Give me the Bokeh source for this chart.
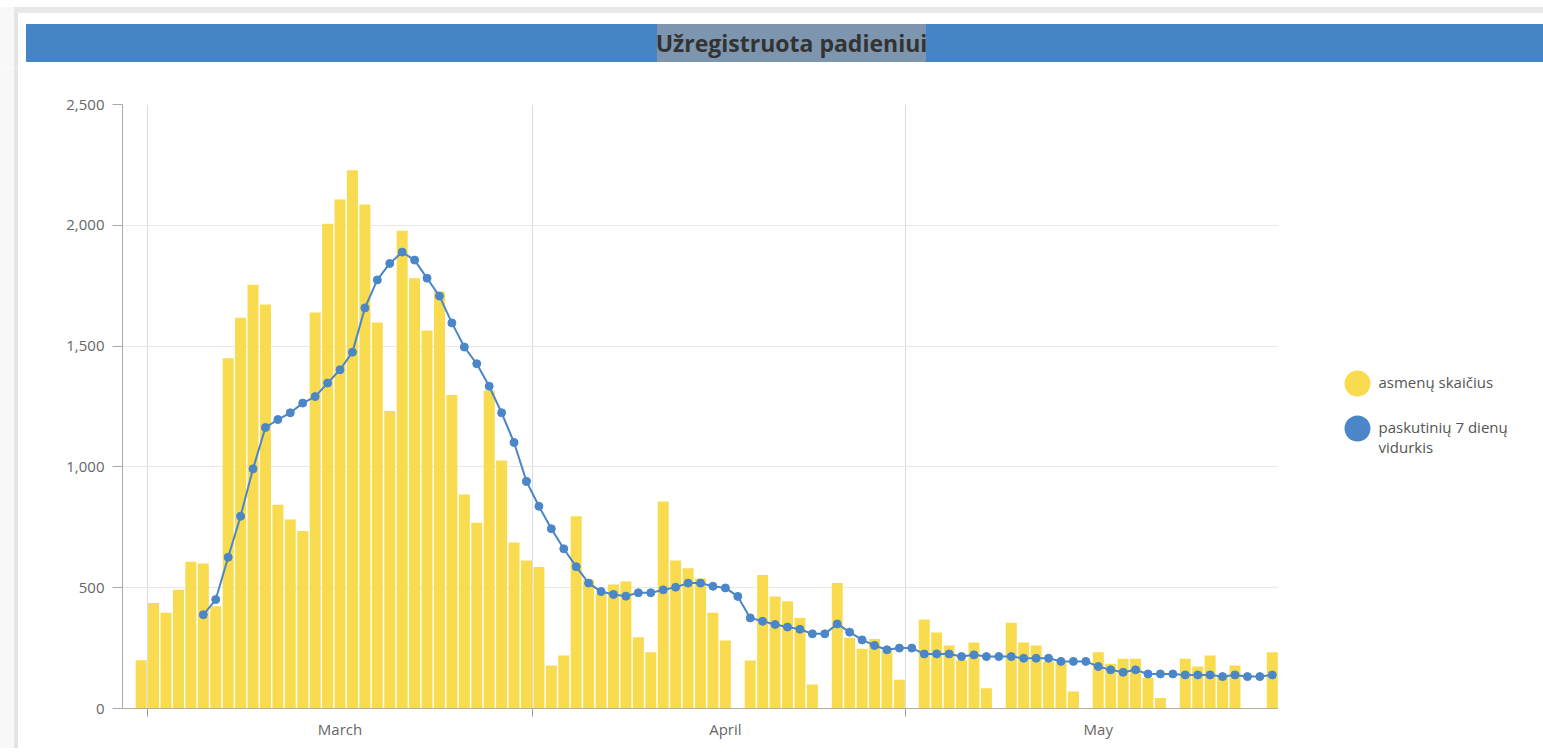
import pandas as pd
from bokeh.plotting import figure
from bokeh.layouts import column, row
from bokeh.models import Range1d, FixedTicker, NumeralTickFormatter, ColumnDataSource
from bokeh.core.properties import value
from bokeh.embed import file_html
from bokeh.resources import INLINE

# ---------------- data ----------------
TITLE = "Užregistruota padieniui"
SERIES_NAMES = ["asmenų skaičius", "paskutinių 7 dienų\nvidurkis"]

days = pd.date_range("2021-02-28", "2021-05-30", freq="D")

counts = [
    200, 437, 396, 491, 607, 600, 423, 1450, 1617, 1754,
    1672, 843, 782, 735, 1639, 2006, 2107, 2228, 2086, 1598,
    1231, 1977, 1781, 1565, 1726, 1298, 886, 769, 1316, 1026,
    687, 613, 586, 178, 219, 796, 533, 475, 513, 526,
    295, 233, 857, 613, 580, 538, 396, 281, 0, 199,
    553, 464, 444, 375, 99, 0, 519, 293, 247, 288,
    240, 119, 0, 368, 315, 261, 201, 273, 84, 0,
    355, 273, 261, 195, 190, 70, 0, 233, 185, 206,
    206, 126, 43, 0, 206, 174, 219, 140, 178, 0,
    0, 233,
]

avg7 = [
    None, None, None, None, None, 388, 451, 626, 796, 992,
    1163, 1196, 1224, 1264, 1291, 1347, 1402, 1475, 1658, 1774,
    1842, 1889, 1856, 1781, 1707, 1596, 1496, 1427, 1334, 1224,
    1101, 940, 837, 744, 661, 587, 519, 484, 472, 465,
    479, 479, 491, 502, 519, 519, 506, 499, 464, 375,
    361, 348, 337, 328, 309, 309, 350, 316, 284, 261,
    243, 250, 250, 226, 226, 226, 215, 222, 215, 215,
    215, 208, 208, 208, 195, 195, 195, 174, 160, 150,
    160, 143, 143, 143, 139, 139, 139, 132, 139, 132,
    132, 139,
]

month_starts = ["2021-03-01", "2021-04-01", "2021-05-01"]
month_labels = ["March", "April", "May"]
month_label_pos = ["2021-03-16 12:00", "2021-04-16 12:00", "2021-05-16 12:00"]
y_ticks = [0, 500, 1000, 1500, 2000, 2500]

# ---------------- styling constants ----------------
FONT = value("Open Sans")
BAR_COLOR = "#f8db4e"
LINE_COLOR = "#4a86c8"
TEXT_COLOR = "#666666"

W = 1543
HDR_H = 68
MAIN_H = 680
STRIP_W = 18
LEG_W = 265


def ms(s):
    return pd.Timestamp(s).value // 10**6


def blank(width, height):
    f = figure(width=width, height=height, output_backend="svg", toolbar_location=None,
               x_range=Range1d(0, width), y_range=Range1d(0, height),
               x_axis_location=None, y_axis_location=None, min_border=0)
    f.grid.visible = False
    f.outline_line_color = None
    f.frame_align = False
    return f


# ---------------- header ----------------
hdr = blank(W, HDR_H)
hdr.quad(left=[0], right=[14], bottom=[0], top=[61], color="#f8f8f8")
hdr.quad(left=[14], right=[17], bottom=[0], top=[61], color="#e4e4e4")
hdr.quad(left=[14], right=[W], bottom=[56], top=[61], color="#e8e8e8")
hdr.quad(left=[26], right=[W], bottom=[7], top=[44], color="#4585c6")
hdr.quad(left=[657], right=[925], bottom=[7], top=[44], color="#7d95ae")
hdr.text(x=[791], y=[25.5], text=[TITLE], text_align="center", text_baseline="middle",
         text_font=FONT, text_font_size="23px", text_font_style="bold", text_color="#333333")

# left page strip
strip = blank(STRIP_W, MAIN_H)
strip.quad(left=[0], right=[14], bottom=[0], top=[MAIN_H], color="#f8f8f8")
strip.quad(left=[14], right=[17], bottom=[0], top=[MAIN_H], color="#e4e4e4")

# ---------------- main chart ----------------
p = figure(width=W - STRIP_W - LEG_W, height=MAIN_H, x_axis_type="datetime",
           x_range=Range1d(pd.Timestamp("2021-02-27"), pd.Timestamp("2021-05-31")),
           y_range=Range1d(0, 2500),
           output_backend="svg", toolbar_location=None,
           min_border_left=104, min_border_right=0, min_border_top=36, min_border_bottom=40)
p.outline_line_color = None
p.frame_align = False

bar_x = days + pd.Timedelta(hours=12)
src = ColumnDataSource(dict(x=bar_x, count=counts))
day_ms = 86400000
p.vbar(x="x", top="count", width=0.885 * day_ms, source=src,
       fill_color=BAR_COLOR, line_color=None)

avg_x = [x for x, v in zip(bar_x, avg7) if v is not None]
avg_y = [v for v in avg7 if v is not None]
lsrc = ColumnDataSource(dict(x=avg_x, y=avg_y))
p.line(x="x", y="y", source=lsrc, line_color=LINE_COLOR, line_width=2)
p.scatter(x="x", y="y", source=lsrc, marker="circle", size=8,
          fill_color=LINE_COLOR, line_color=LINE_COLOR)

# axes
label_ticks = [ms(s) for s in month_label_pos]
start_ticks = [ms(s) for s in month_starts]
xa = p.xaxis[0]
xa.ticker = FixedTicker(ticks=label_ticks, minor_ticks=start_ticks)
xa.major_label_overrides = {t: lab for t, lab in zip(label_ticks, month_labels)}
xa.major_tick_line_color = None
xa.major_tick_out = 0
xa.major_tick_in = 0
xa.minor_tick_out = 8
xa.minor_tick_in = 0
xa.minor_tick_line_color = "#9a9a9a"
xa.axis_line_color = "#b5ae8e"
xa.major_label_standoff = 2
xa.major_label_text_font = "Open Sans"
xa.major_label_text_font_size = "15px"
xa.major_label_text_color = TEXT_COLOR

ya = p.yaxis[0]
ya.ticker = FixedTicker(ticks=y_ticks)
ya.formatter = NumeralTickFormatter(format="0,0")
ya.minor_tick_line_color = None
ya.major_tick_out = 10
ya.major_tick_in = 0
ya.major_tick_line_color = "#aaaaaa"
ya.axis_line_color = "#aaaaaa"
ya.major_label_standoff = 8
ya.major_label_text_font = "Open Sans"
ya.major_label_text_font_size = "15px"
ya.major_label_text_color = TEXT_COLOR

p.xgrid.ticker = FixedTicker(ticks=start_ticks)
p.xgrid.grid_line_color = "#dcdcdc"
p.ygrid.grid_line_color = "#e8e8e8"

# ---------------- legend panel ----------------
leg = blank(LEG_W, MAIN_H)
leg.scatter(x=[79, 79], y=[365, 320], marker="circle", size=26,
            fill_color=[BAR_COLOR, LINE_COLOR], line_color=None)
leg.text(x=[100, 100], y=[377, 332], text=SERIES_NAMES,
         text_align="left", text_baseline="top", text_line_height=1.0,
         text_font=FONT, text_font_size="15px", text_color="#555555")

layout = column(hdr, row(strip, p, leg, spacing=0), spacing=0)
open("out.html", "w").write(file_html(layout, INLINE))
